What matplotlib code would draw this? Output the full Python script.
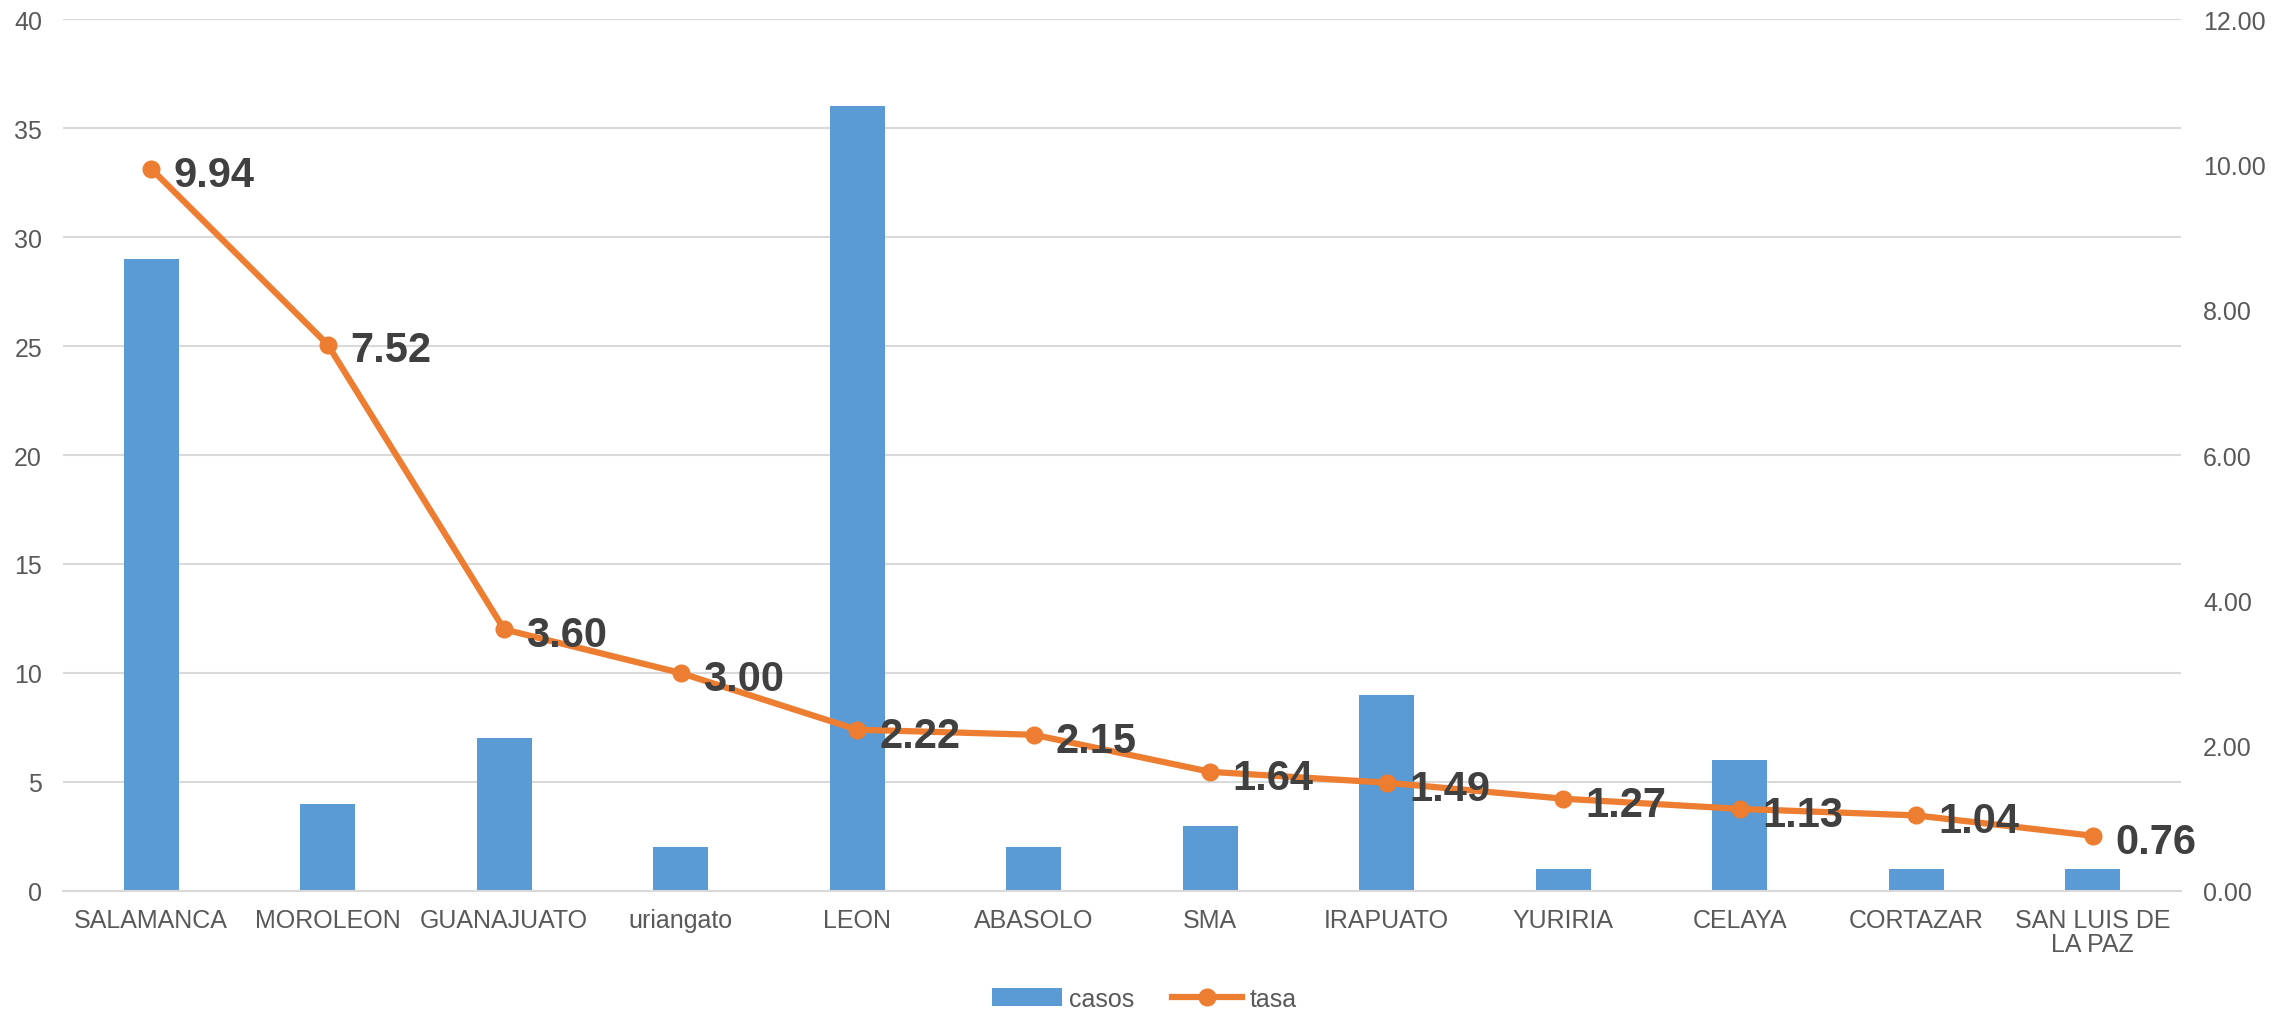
import matplotlib
matplotlib.use("Agg")
import matplotlib.pyplot as plt
import numpy as np

plt.rcParams['font.family'] = ['Liberation Sans', 'DejaVu Sans']

categories = ["SALAMANCA", "MOROLEON", "GUANAJUATO", "uriangato", "LEON", "ABASOLO",
              "SMA", "IRAPUATO", "YURIRIA", "CELAYA", "CORTAZAR", "SAN LUIS DE\nLA PAZ"]
casos = [29, 4, 7, 2, 36, 2, 3, 9, 1, 6, 1, 1]
tasa = [9.94, 7.52, 3.60, 3.00, 2.22, 2.15, 1.64, 1.49, 1.27, 1.13, 1.04, 0.76]

fig = plt.figure(figsize=(22.88, 10.12), dpi=100)
ax = fig.add_axes([0.0275, 0.1186, 0.9257, 0.8616])
x = np.arange(len(categories))
tc = '#595959'
grid = '#D9D9D9'

bars = ax.bar(x, casos, width=0.31, color='#5B9BD5', label='casos', zorder=2)
ax.set_ylim(0, 40)
ax.set_yticks(range(0, 41, 5))
ax.set_xlim(-0.5, len(categories) - 0.5)
ax.set_xticks(x)
ax.set_xticklabels(categories, fontsize=18, color=tc, linespacing=1.0)
ax.tick_params(axis='y', labelsize=18, labelcolor=tc, length=0, pad=15)
ax.tick_params(axis='x', length=0, pad=12)
ax.grid(axis='y', color=grid, linewidth=1.5, zorder=0)
for s in ['top', 'right', 'left']:
    ax.spines[s].set_visible(False)
ax.spines['bottom'].set_color(grid)
ax.spines['bottom'].set_linewidth(1.5)

ax2 = ax.twinx()
line, = ax2.plot(x, tasa, color='#ED7D31', linewidth=4.5, marker='o', markersize=12,
                 label='tasa', zorder=3)
ax2.set_ylim(0, 12)
ax2.set_yticks(np.arange(0, 12.01, 2))
ax2.set_yticklabels([f"{v:.2f}" for v in np.arange(0, 12.01, 2)])
ax2.tick_params(axis='y', labelsize=18, labelcolor=tc, length=0, pad=16)
for s in ['top', 'right', 'left', 'bottom']:
    ax2.spines[s].set_visible(False)

for xi, v in zip(x, tasa):
    ax2.annotate(f"{v:.2f}", (xi, v), xytext=(16, -1), textcoords='offset points',
                 ha='left', va='center_baseline', fontsize=30, fontweight='bold',
                 color='#404040', zorder=4)

fig.legend(handles=[bars, line], labels=['casos', 'tasa'], loc='lower center',
           bbox_to_anchor=(0.5, -0.022), ncol=2, frameon=False, fontsize=18,
           labelcolor=tc, handlelength=2.8, columnspacing=1.5, handletextpad=0.3)

fig.savefig("out.png", dpi=100)
